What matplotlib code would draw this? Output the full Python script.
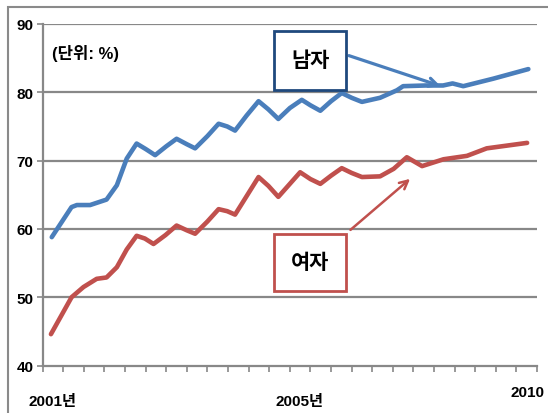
import matplotlib
matplotlib.use("Agg")
import matplotlib.pyplot as plt
from matplotlib.patches import Rectangle

plt.rcParams['font.family'] = ['Liberation Sans', 'Noto Sans CJK KR', 'DejaVu Sans']

# months since Jan 2001
male_x = [2.2, 7.0, 8.3, 11.5, 15.5, 18.0, 20.4, 22.8, 25.0, 27.3, 30.0, 32.5, 35.0, 37.0,
          40.0, 42.7, 44.8, 46.7, 49.5, 52.4, 54.8, 57.2, 60.0, 62.9, 65.0, 67.4, 70.0,
          72.6, 75.0, 77.5, 81.9, 86.0, 87.5, 93.0, 97.2, 99.5, 102.1, 109.4, 117.9]
male_y = [58.8, 63.2, 63.5, 63.5, 64.3, 66.4, 70.3, 72.5, 71.7, 70.8, 72.1, 73.2, 72.4, 71.8,
          73.6, 75.4, 75.0, 74.4, 76.6, 78.7, 77.5, 76.1, 77.7, 78.9, 78.1, 77.3, 78.7,
          79.9, 79.2, 78.6, 79.2, 80.3, 80.9, 81.0, 81.0, 81.3, 80.9, 82.0, 83.4]

female_x = [2.0, 4.5, 7.0, 9.9, 13.1, 15.5, 18.0, 20.4, 22.8, 24.8, 26.9, 29.8, 32.5, 35.0,
            37.0, 40.0, 42.7, 44.8, 46.7, 49.5, 52.4, 54.8, 57.2, 60.0, 62.5, 65.0, 67.4,
            70.0, 72.6, 75.0, 77.5, 81.9, 85.2, 88.4, 92.1, 97.3, 103.0, 107.8, 117.6]
female_y = [44.6, 47.3, 50.0, 51.5, 52.7, 52.9, 54.4, 57.0, 59.0, 58.6, 57.8, 59.1, 60.5, 59.8,
            59.3, 61.1, 62.9, 62.6, 62.1, 64.8, 67.6, 66.3, 64.7, 66.6, 68.3, 67.3, 66.6,
            67.8, 68.9, 68.2, 67.6, 67.7, 68.8, 70.5, 69.2, 70.2, 70.7, 71.8, 72.6]

y_ticks = [40, 50, 60, 70, 80, 90]
year_labels = ['2001년', '2005년', '2010']
year_pos = [2.3, 62.3, 117.6]
year_ypos = [-0.104, -0.104, -0.078]

blue = '#4a7ebb'
red = '#c0504d'
grid = '#888888'

fig = plt.figure(figsize=(5.48, 4.14), dpi=100)
# outer frame of the original picture
fig.patches.append(Rectangle((8 / 548, -0.1), 1.2, 1.1 - 8 / 414, transform=fig.transFigure,
                             fill=False, edgecolor='#8a8a8a', linewidth=1.5))

ax = fig.add_axes([42.7 / 548, 1 - 366.6 / 414, (537 - 42.7) / 548, (366.6 - 25) / 414])
ax.set_xlim(0, 120)
ax.set_ylim(40, 90)

for v in y_ticks[1:]:
    ax.axhline(v, color=grid, linewidth=1.6, zorder=1)

ax.plot(male_x, male_y, color=blue, linewidth=3.3, solid_joinstyle='round',
        solid_capstyle='round', zorder=3)
ax.plot(female_x, female_y, color=red, linewidth=3.3, solid_joinstyle='round',
        solid_capstyle='round', zorder=3)

for s in ['top', 'right']:
    ax.spines[s].set_visible(False)
for s in ['left', 'bottom']:
    ax.spines[s].set_color(grid)
    ax.spines[s].set_linewidth(1.6)

ax.set_yticks(y_ticks)
ax.set_yticklabels([str(v) for v in y_ticks], fontweight='bold', fontsize=11)
ax.set_xticks(range(0, 121, 5))
ax.set_xticklabels([])
ax.tick_params(axis='both', direction='out', color=grid, width=1.2, length=4.5)
ax.tick_params(axis='y', pad=2)

for lab, xp, yp in zip(year_labels, year_pos, year_ypos):
    ax.text(xp, yp, lab, transform=ax.get_xaxis_transform(), ha='center', va='center',
            fontsize=11, fontweight='bold')

ax.text(2.3, 85.8, '(단위: %)', fontsize=12, fontweight='bold', va='center', ha='left')

# label boxes
ax.add_patch(Rectangle((56.2, 80.4), 17.5, 8.6, facecolor='white', edgecolor='#1f497d',
                       linewidth=2, zorder=5))
ax.text(64.9, 84.7, '남자', fontsize=15, fontweight='bold', ha='center', va='center', zorder=6)
ax.annotate('', xy=(97.2, 80.8), xytext=(73.7, 85.5),
            arrowprops=dict(arrowstyle='->', color=blue, lw=2.3, mutation_scale=15), zorder=4)

ax.add_patch(Rectangle((56.2, 50.9), 17.5, 8.4, facecolor='white', edgecolor=red,
                       linewidth=2, zorder=5))
ax.text(64.9, 55.1, '여자', fontsize=15, fontweight='bold', ha='center', va='center', zorder=6)
ax.annotate('', xy=(89.7, 67.6), xytext=(74.2, 59.6),
            arrowprops=dict(arrowstyle='->', color=red, lw=1.8, mutation_scale=15), zorder=4)

fig.savefig('out.png', dpi=100)
